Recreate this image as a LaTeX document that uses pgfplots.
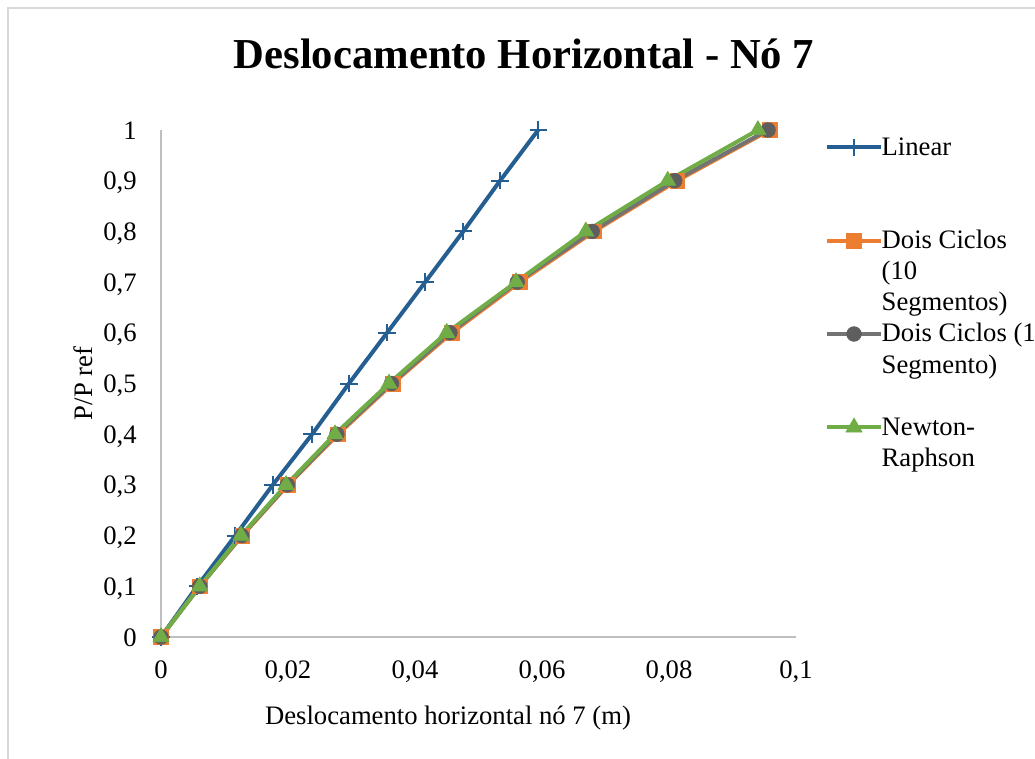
\documentclass[border=0pt]{standalone}
\usepackage{pgfplots}
\pgfplotsset{compat=1.18}
\usepackage{fontspec}
\setmainfont{Liberation Serif}

\definecolor{cLin}{HTML}{255E91}
\definecolor{cDC10}{HTML}{ED7D31}
\definecolor{cDC1line}{HTML}{737373}
\definecolor{cDC1mark}{HTML}{5E5E5E}
\definecolor{cNR}{HTML}{70AD47}
\definecolor{axgray}{HTML}{BFBFBF}
\definecolor{framegray}{HTML}{D9D9D9}

\newcommand{\lbl}{\fontsize{20}{22.5}\selectfont}
% one legend line; continuation lines carry no image
\newcommand{\legline}[1]{\addlegendimage{empty legend}\addlegendentry{\strut #1}}

\begin{document}
\begin{tikzpicture}
\begin{axis}[
  at={(0,0)}, anchor=south west,
  scale only axis, width=476.25pt, height=380.25pt,
  xmin=0, xmax=0.1, ymin=0, ymax=1,
  axis x line=bottom, axis y line=left,
  axis line style={-, draw=axgray, line width=1.5pt},
  major tick length=0pt,
  clip=false,
  xtick={0,0.02,0.04,0.06,0.08,0.1},
  xticklabels={0,{0,02},{0,04},{0,06},{0,08},{0,1}},
  ytick={0,0.1,0.2,0.3,0.4,0.5,0.6,0.7,0.8,0.9,1},
  yticklabels={0,{0,1},{0,2},{0,3},{0,4},{0,5},{0,6},{0,7},{0,8},{0,9},1},
  xticklabel style={anchor=base, yshift=-30.75pt, inner sep=0pt, font=\lbl},
  yticklabel style={anchor=base east, xshift=-18pt, yshift=-6.8pt, inner sep=0pt, font=\lbl},
  title={Deslocamento Horizontal - Nó 7},
  title style={at={(0.5717,1.105)}, anchor=base, inner sep=0pt, font=\bfseries\fontsize{32}{36}\selectfont},
  xlabel={Deslocamento horizontal nó 7 (m)},
  xlabel style={at={(0.452,-0.16)}, anchor=center, font=\lbl},
  ylabel={P/P ref},
  ylabel style={at={(-0.1228,0.5)}, anchor=center, font=\lbl},
  legend style={at={(1.0457,0.997)}, anchor=north west, draw=none, fill=none,
    inner sep=0pt, outer sep=0pt, row sep=2.1pt, column sep=-3pt, font=\lbl,
    cells={anchor=base west, inner sep=0pt}},
  legend image code/.code={\draw[mark repeat=2, mark phase=2]
    plot coordinates {(0pt,6pt) (20.25pt,6pt) (40.5pt,6pt)};},
  every axis plot/.append style={line width=3pt, line join=round},
]
% Linear analysis
\addplot[color=cLin, mark=+, mark size=6.5pt, mark options={line width=1.5pt}]
  coordinates {(0,0) (0.0057,0.1) (0.0117,0.2) (0.0176,0.3) (0.0238,0.4) (0.0296,0.5)
               (0.0356,0.6) (0.0416,0.7) (0.0476,0.8) (0.0534,0.9) (0.0594,1)};
\addlegendentry{\strut Linear}
\legline{}
\legline{}
% Two cycles, 10 segments
\addplot[color=cDC10, mark=square*, mark size=5.5pt, mark options={line width=0.5pt, fill=cDC10}]
  coordinates {(0,0) (0.0061,0.1) (0.0128,0.2) (0.0200,0.3) (0.0279,0.4) (0.0365,0.5)
               (0.0458,0.6) (0.0565,0.7) (0.0682,0.8) (0.0813,0.9) (0.0959,1)};
\addlegendentry{\strut Dois Ciclos}
\legline{(10}
\legline{Segmentos)}
% Two cycles, 1 segment
\addplot[color=cDC1line, mark=*, mark size=5.5pt, mark options={line width=0.5pt, draw=cDC1mark, fill=cDC1mark}]
  coordinates {(0,0) (0.0061,0.1) (0.0127,0.2) (0.0199,0.3) (0.0277,0.4) (0.0363,0.5)
               (0.0455,0.6) (0.0561,0.7) (0.0679,0.8) (0.0809,0.9) (0.0956,1)};
\addlegendentry{\strut Dois Ciclos (1}
\legline{Segmento)}
\legline{}
% Newton-Raphson
\addplot[color=cNR, mark=triangle*, mark size=7pt, mark options={line width=0.5pt, fill=cNR}]
  coordinates {(0,0) (0.0061,0.1) (0.0126,0.2) (0.0197,0.3) (0.0274,0.4) (0.0359,0.5)
               (0.0450,0.6) (0.0559,0.7) (0.0669,0.8) (0.0798,0.9) (0.0940,1)};
\addlegendentry{\strut Newton-}
\legline{Raphson}
\end{axis}
% chart area border (left and top edges)
\draw[framegray, line width=1.5pt] (-114.75pt,-200pt) -- (-114.75pt,471.75pt) -- (800pt,471.75pt);
\pgfresetboundingbox
\path[use as bounding box] (-120.75pt,-90.75pt) rectangle (655.5pt,477.75pt);
\end{tikzpicture}
\end{document}
